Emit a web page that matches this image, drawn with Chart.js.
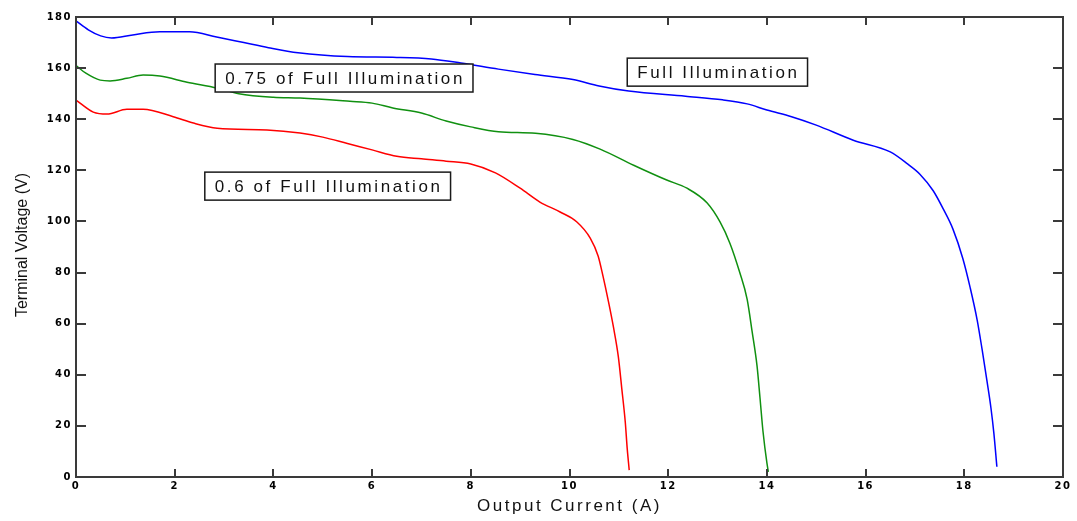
<!DOCTYPE html>
<html>
<head>
<meta charset="utf-8">
<title>Terminal Voltage vs Output Current</title>
<script src="https://cdn.jsdelivr.net/npm/chart.js@4.4.1/dist/chart.umd.min.js"></script>
<style>
  html, body { margin: 0; padding: 0; background: #fff; }
  canvas { display: block; }
</style>
</head>
<body>
<canvas id="ivChart" width="1077" height="521"></canvas>
<script>
// Values: output current (A) and terminal voltage (V)
const fullCurrent = [0, 0.25, 0.5, 0.72, 1.15, 1.7, 2.3, 2.85, 3.4, 3.9, 4.5, 5.5, 6.5, 7.2, 7.8, 8.56, 9.3, 10.07,
  10.6, 11.2, 12.35, 13.1, 13.6, 14.0, 14.5, 15.0, 15.75, 16.5, 16.85, 17.1, 17.37, 17.57, 17.77, 17.97, 18.12,
  18.26, 18.36, 18.46, 18.54, 18.6, 18.66];
const fullVoltage = [178.5, 175, 172.6, 171.8, 173, 174.2, 174.2, 172.2, 170, 168, 166, 164.5, 164.2, 163.6, 162, 159.6, 157.5, 155.5,
  153, 151, 149, 147.6, 146, 143.6, 141, 137.7, 131.8, 127.2, 122.5, 118.5, 112, 105, 97, 85.5, 74,
  61.5, 50, 37.5, 27, 17, 4];

const q75Current = [0, 0.2, 0.49, 0.69, 1.03, 1.36, 1.7, 2.25, 2.86, 3.3, 4.0, 4.54, 5.55, 6.0, 6.42, 7.0, 7.5, 8.0, 8.56,
  9.31, 10.07, 10.62, 11.3, 11.97, 12.38, 12.79, 13.05, 13.25, 13.45, 13.6, 13.7, 13.8, 13.86, 13.92, 14.0, 14.03];
const q75Voltage = [161, 158, 155.3, 155, 156, 157.3, 156.9, 154.5, 152.2, 150, 148.6, 148.3, 147, 146.3, 144.4, 142.4, 139.3, 137, 135.1,
  134.5, 132.1, 128.3, 122, 116.2, 113, 107.2, 99.8, 91.5, 80, 69.5, 57, 43.5, 31, 18, 5.5, 2];

const q60Current = [0, 0.35, 0.63, 1.03, 1.36, 1.97, 2.38, 2.86, 3.87, 4.54, 5.0, 5.5, 6.0, 6.5, 7.0, 7.5, 8.0, 8.5, 9.0,
  9.4, 9.81, 10.15, 10.42, 10.58, 10.68, 10.78, 10.89, 10.99, 11.06, 11.13, 11.17, 11.21];
const q60Voltage = [147.5, 142.8, 142, 143.9, 143.9, 141, 138.5, 136.5, 135.8, 134.6, 133, 130.5, 128, 125.5, 124.5, 123.6, 122.5, 119, 113,
  107.6, 103.7, 99.8, 93.5, 86.5, 78.5, 69.5, 58.7, 47, 34.5, 21.5, 11, 2.7];

const currentTicks = [0, 2, 4, 6, 8, 10, 12, 14, 16, 18, 20];
const voltageTicks = [0, 20, 40, 60, 80, 100, 120, 140, 160, 180];

// boxed notes, anchored at their top-left corner in data units
const notes = [
  { text: 'Full Illumination', x: 11.17, y: 163.9 },
  { text: '0.75 of Full Illumination', x: 2.82, y: 161.6 },
  { text: '0.6 of Full Illumination', x: 2.61, y: 119.3 }
];

const toPoints = (xs, ys) => xs.map((x, i) => ({ x: x, y: ys[i] }));

// frame with inward ticks, axis titles and the note boxes
const framePlugin = {
  id: 'frame',
  beforeDraw(chart) {
    chart.ctx.letterSpacing = '1.5px'; // for the blocky tick labels
  },
  afterDraw(chart) {
    const { ctx, chartArea: a, scales: { x, y } } = chart;
    ctx.save();
    ctx.letterSpacing = '0px';
    ctx.strokeStyle = '#3a3a3a';
    ctx.lineWidth = 2;
    ctx.strokeRect(a.left, a.top, a.right - a.left, a.bottom - a.top);
    ctx.beginPath();
    x.ticks.forEach(t => {
      const px = Math.round(x.getPixelForValue(t.value));
      ctx.moveTo(px, a.bottom); ctx.lineTo(px, a.bottom - 8);
      ctx.moveTo(px, a.top); ctx.lineTo(px, a.top + 8);
    });
    y.ticks.forEach(t => {
      const py = Math.round(y.getPixelForValue(t.value));
      ctx.moveTo(a.left, py); ctx.lineTo(a.left + 10, py);
      ctx.moveTo(a.right, py); ctx.lineTo(a.right - 10, py);
    });
    ctx.stroke();

    ctx.fillStyle = '#111';
    ctx.textBaseline = 'middle';
    ctx.textAlign = 'center';
    ctx.font = '17px "Liberation Sans", Arial, sans-serif';
    ctx.letterSpacing = '2.5px';
    ctx.fillText('Output Current (A)', (a.left + a.right) / 2, a.bottom + 29);

    ctx.save();
    ctx.letterSpacing = '0px';
    ctx.font = '16px "Liberation Sans", Arial, sans-serif';
    ctx.translate(a.left - 53, (a.top + a.bottom) / 2 - 2);
    ctx.rotate(-Math.PI / 2);
    ctx.fillText('Terminal Voltage (V)', 0, 0);
    ctx.restore();

    ctx.font = '17px "Liberation Sans", Arial, sans-serif';
    ctx.letterSpacing = '2.6px';
    ctx.textAlign = 'left';
    ctx.lineWidth = 1.5;
    ctx.strokeStyle = '#1a1a1a';
    notes.forEach(n => {
      const left = x.getPixelForValue(n.x);
      const top = y.getPixelForValue(n.y);
      const w = ctx.measureText(n.text).width + 18;
      const h = 28;
      ctx.fillStyle = '#fff';
      ctx.fillRect(left, top, w, h);
      ctx.strokeRect(left, top, w, h);
      ctx.fillStyle = '#111';
      ctx.fillText(n.text, left + 10, top + h / 2 + 1);
    });
    ctx.restore();
  }
};

const line = (data, color) => ({
  data: data,
  showLine: true,
  borderColor: color,
  borderWidth: 1.5,
  pointRadius: 0,
  cubicInterpolationMode: 'monotone'
});

const tickFont = { family: '"DejaVu Sans", sans-serif', size: 10, weight: 'bold' };

new Chart(document.getElementById('ivChart'), {
  type: 'scatter',
  data: {
    datasets: [
      line(toPoints(fullCurrent, fullVoltage), '#0000ff'),
      line(toPoints(q75Current, q75Voltage), '#109010'),
      line(toPoints(q60Current, q60Voltage), '#ff0000')
    ]
  },
  options: {
    responsive: false,
    animation: false,
    events: [],
    layout: { padding: { top: 17, right: 14, left: 0, bottom: 0 } },
    plugins: { legend: { display: false }, tooltip: { enabled: false } },
    scales: {
      x: {
        type: 'linear', min: 0, max: 20,
        afterBuildTicks: s => { s.ticks = currentTicks.map(v => ({ value: v })); },
        afterFit: s => { s.height = 44; },
        grid: { display: false, drawTicks: false },
        border: { display: false },
        ticks: { color: '#000', font: tickFont, padding: 3, maxRotation: 0 }
      },
      y: {
        type: 'linear', min: 0, max: 180,
        afterBuildTicks: s => { s.ticks = voltageTicks.map(v => ({ value: v })); },
        afterFit: s => { s.width = 76; },
        grid: { display: false, drawTicks: false },
        border: { display: false },
        ticks: { color: '#000', font: tickFont, padding: 4 }
      }
    }
  },
  plugins: [framePlugin]
});
</script>
</body>
</html>
